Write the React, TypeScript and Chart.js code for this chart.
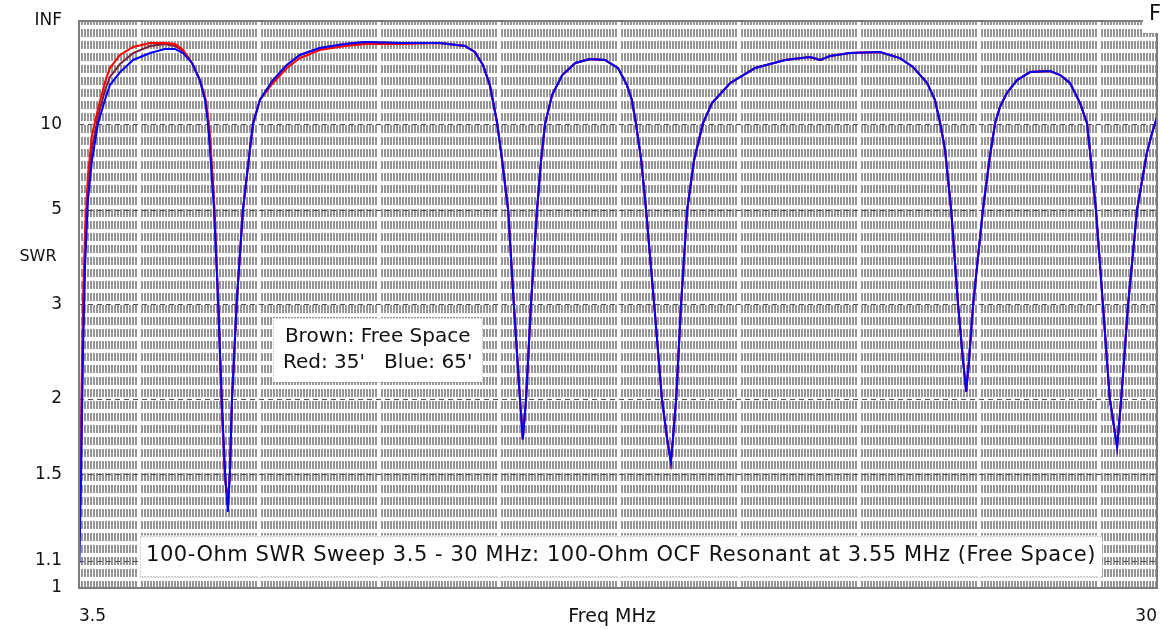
import React, { useEffect, useRef } from 'react';
import { Chart, registerables } from 'chart.js';

Chart.register(...registerables);

// ---------- data ----------
const FREQ_MHZ = [
  3.51, 3.55, 3.6, 3.65, 3.72, 3.82, 3.97, 4.14, 4.26, 4.51,
  4.83, 5.25, 5.61, 5.86, 6.06, 6.28, 6.47, 6.6, 6.67, 6.72,
  6.82, 6.92, 7.01, 7.09, 7.16, 7.21, 7.26, 7.38, 7.53, 7.7,
  7.78, 7.95, 8.27, 8.61, 8.93, 9.42, 10.04, 10.53, 11.39, 12.37,
  12.99, 13.23, 13.43, 13.6, 13.78, 13.9, 14.05, 14.19, 14.34, 14.41,
  14.49, 14.61, 14.76, 14.86, 14.96, 15.13, 15.38, 15.7, 16.06, 16.43,
  16.75, 16.97, 17.09, 17.19, 17.32, 17.44, 17.64, 17.83, 17.96, 18.05,
  18.1, 18.18, 18.3, 18.45, 18.62, 18.84, 19.06, 19.51, 20.12, 20.86,
  21.47, 21.72, 21.96, 22.45, 23.19, 23.68, 24.0, 24.35, 24.54, 24.67,
  24.79, 24.94, 25.11, 25.23, 25.31, 25.38, 25.48, 25.72, 25.89, 26.02,
  26.14, 26.31, 26.56, 26.88, 27.37, 27.62, 27.86, 28.11, 28.28, 28.35,
  28.5, 28.67, 28.84, 29.02, 29.12, 29.29, 29.51, 29.75, 29.88, 30.0,
];

const SWR_65FT = [
  1.09, 1.47, 2.45, 3.65, 5.34, 7.16, 10.1, 13.4, 16.7, 21.2,
  28.1, 34.4, 39.5, 39.5, 34.4, 26.0, 18.2, 13.4, 10.1, 7.79,
  5.0, 3.06, 1.99, 1.51, 1.31, 1.51, 1.99, 3.06, 5.0, 7.79,
  10.1, 13.4, 18.2, 24.8, 32.4, 41.0, 48.3, 53.0, 50.5, 50.5,
  44.4, 35.6, 24.8, 16.7, 10.1, 7.16, 5.0, 3.0, 2.0, 1.71,
  2.0, 3.0, 5.0, 7.16, 10.1, 14.3, 20.0, 26.0, 28.8, 28.1,
  23.1, 16.7, 13.4, 10.1, 7.16, 5.0, 3.0, 2.0, 1.71, 1.57,
  1.71, 2.0, 3.0, 5.0, 7.16, 10.1, 12.8, 17.3, 23.1, 28.1,
  30.5, 28.1, 31.4, 34.4, 35.6, 29.6, 23.7, 17.3, 13.4, 10.1,
  7.79, 5.0, 3.0, 2.35, 2.06, 2.35, 3.0, 5.0, 7.34, 10.1,
  12.2, 14.75, 18.2, 21.2, 21.7, 20.0, 17.3, 12.8, 10.1, 7.79,
  5.0, 3.0, 2.0, 1.66, 2.0, 3.0, 5.0, 7.59, 9.12, 10.8,
];

const SWR_35FT = [
  1.39, 1.84, 3.06, 4.43, 6.36, 8.95, 12.0, 17.6, 23.1, 32.4,
  42.6, 50.5, 50.5, 48.3, 38.1, 26.0, 18.2, 13.9, 11.1, 8.95,
  5.34, 3.06, 1.92, 1.47, 1.37, 1.51, 1.99, 3.06, 5.0, 7.79,
  10.1, 13.4, 17.3, 23.1, 29.6, 38.1, 44.4, 48.3, 48.3, 50.5,
  44.4, 35.6, 24.8, 16.7, 10.1, 7.16, 5.0, 3.0, 2.0, 1.71,
  2.0, 3.0, 5.0, 7.16, 10.1, 14.3, 20.0, 26.0, 28.8, 28.1,
  23.1, 16.7, 13.4, 10.1, 7.16, 5.0, 3.0, 2.0, 1.71, 1.57,
  1.71, 2.0, 3.0, 5.0, 7.16, 10.1, 12.8, 17.3, 23.1, 28.1,
  30.5, 28.1, 31.4, 34.4, 35.6, 29.6, 23.7, 17.3, 13.4, 10.1,
  7.79, 5.0, 3.0, 2.35, 2.06, 2.35, 3.0, 5.0, 7.34, 10.1,
  12.2, 14.75, 18.2, 21.2, 21.7, 20.0, 17.3, 12.8, 10.1, 7.79,
  5.0, 3.0, 2.0, 1.66, 2.0, 3.0, 5.0, 7.59, 9.12, 10.8,
];

const SWR_FREE_SPACE = [
  1.23, 1.64, 2.73, 4.06, 5.79, 7.93, 10.9, 15.4, 19.25, 25.4,
  34.4, 44.4, 48.3, 44.4, 36.8, 26.0, 18.2, 13.6, 10.6, 8.3,
  5.2, 3.06, 1.95, 1.49, 1.34, 1.51, 1.99, 3.06, 5.0, 7.79,
  10.1, 13.4, 18.2, 24.8, 32.4, 41.0, 48.3, 53.0, 50.5, 50.5,
  44.4, 35.6, 24.8, 16.7, 10.1, 7.16, 5.0, 3.0, 2.0, 1.71,
  2.0, 3.0, 5.0, 7.16, 10.1, 14.3, 20.0, 26.0, 28.8, 28.1,
  23.1, 16.7, 13.4, 10.1, 7.16, 5.0, 3.0, 2.0, 1.71, 1.57,
  1.71, 2.0, 3.0, 5.0, 7.16, 10.1, 12.8, 17.3, 23.1, 28.1,
  30.5, 28.1, 31.4, 34.4, 35.6, 29.6, 23.7, 17.3, 13.4, 10.1,
  7.79, 5.0, 3.0, 2.35, 2.06, 2.35, 3.0, 5.0, 7.34, 10.1,
  12.2, 14.75, 18.2, 21.2, 21.7, 20.0, 17.3, 12.8, 10.1, 7.79,
  5.0, 3.0, 2.0, 1.66, 2.0, 3.0, 5.0, 7.59, 9.12, 10.8,
];

const SWR_TICK_VALUES = [1, 1.1, 1.5, 2, 3, 5, 10, Infinity];
const SWR_TICK_LABELS = ['1', '1.1', '1.5', '2', '3', '5', '10', 'INF'];
const FREQ_TICK_VALUES = [3.5, 30];
const FREQ_TICK_LABELS = ['3.5', '30'];

const X_TITLE = 'Freq MHz';
const Y_TITLE = 'SWR';
const CORNER_TEXT = 'F';
const CHART_TITLE = '100-Ohm SWR Sweep 3.5 - 30 MHz: 100-Ohm OCF Resonant at 3.55 MHz (Free Space)';
const LEGEND_LINES = ['Brown: Free Space', "Red: 35'   Blue: 65'"];

const FREQ_MIN = 3.5;
const FREQ_MAX = 30;
const HATCH_STEP_MHZ = 0.07375;

// ---------- helpers ----------
const FONT = 'DejaVu Sans';
const toGamma = (swr: number) => (Number.isFinite(swr) ? (swr - 1) / (swr + 1) : 1);
const toPoints = (swr: number[]) => FREQ_MHZ.map((f, i) => ({ x: f, y: toGamma(swr[i]) }));

const noPad = (s: any) => {
  s.paddingLeft = 0;
  s.paddingRight = 0;
  s.paddingTop = 0;
  s.paddingBottom = 0;
};

function drawBox(ctx: CanvasRenderingContext2D, x: number, y: number, w: number, h: number) {
  ctx.fillStyle = '#ffffff';
  ctx.fillRect(x, y, w, h);
  ctx.strokeStyle = '#9a9a9a';
  ctx.lineWidth = 1;
  ctx.setLineDash([1, 2]);
  ctx.strokeRect(Math.round(x) + 0.5, Math.round(y) + 0.5, Math.round(w), Math.round(h));
  ctx.setLineDash([]);
}

const textPlugin = {
  id: 'eznecText',
  afterDraw(chart: any) {
    const { ctx, chartArea: a } = chart;
    const cx = (a.left + a.right) / 2;
    ctx.save();

    // plot frame
    ctx.strokeStyle = '#7d7d7d';
    ctx.lineWidth = 2;
    ctx.setLineDash([]);
    ctx.strokeRect(a.left, a.top, a.right - a.left, a.bottom - a.top);

    // top-right corner label
    ctx.fillStyle = '#ffffff';
    ctx.fillRect(a.right - 14, 0, chart.width - (a.right - 14), a.top + 12);
    ctx.strokeStyle = '#8a8a8a';
    ctx.lineWidth = 1;
    ctx.setLineDash([1, 1]);
    ctx.beginPath();
    ctx.moveTo(a.right - 14, a.top + 12.5);
    ctx.lineTo(a.right - 1, a.top + 12.5);
    ctx.stroke();
    ctx.setLineDash([]);
    ctx.fillStyle = '#111';
    ctx.font = `21px "${FONT}"`;
    ctx.textAlign = 'left';
    ctx.textBaseline = 'middle';
    ctx.fillText(CORNER_TEXT, a.right - 8, a.top - 6);

    // axis titles
    ctx.font = `16px "${FONT}"`;
    ctx.textAlign = 'center';
    ctx.fillText(Y_TITLE, a.left - 41, a.top + (a.bottom - a.top) * 0.416);
    ctx.font = `19px "${FONT}"`;
    ctx.fillText(X_TITLE, cx - 6, a.bottom + 29);

    // legend box
    ctx.font = `20px "${FONT}"`;
    const lw = Math.max(...LEGEND_LINES.map((t) => ctx.measureText(t).width)) + 20;
    const lx = a.left + 194;
    const ly = a.top + 297;
    drawBox(ctx, lx, ly, lw, 64);
    ctx.fillStyle = '#111';
    ctx.textAlign = 'center';
    LEGEND_LINES.forEach((t, i) => ctx.fillText(t, lx + lw / 2, ly + 19 + i * 26));

    // title box
    ctx.font = `21px "${FONT}"`;
    (ctx as any).letterSpacing = '0.55px';
    const tw = ctx.measureText(CHART_TITLE).width + 12;
    const th = 41;
    const tcy = a.bottom - 32;
    drawBox(ctx, cx + 3 - tw / 2, tcy - th / 2, tw, th);
    ctx.fillStyle = '#111';
    ctx.fillText(CHART_TITLE, cx + 3, tcy);
    (ctx as any).letterSpacing = '0px';

    ctx.restore();
  },
};

export default function App() {
  const ref = useRef<HTMLCanvasElement>(null);

  useEffect(() => {
    if (!ref.current) return;
    const chart = new Chart(ref.current, {
      type: 'line',
      data: {
        datasets: [
          { label: "Blue: 65'", data: toPoints(SWR_65FT), borderColor: '#0000ff', borderWidth: 2, xAxisID: 'x', yAxisID: 'y' },
          { label: "Red: 35'", data: toPoints(SWR_35FT), borderColor: '#ff0000', borderWidth: 2, xAxisID: 'x', yAxisID: 'y' },
          { label: 'Brown: Free Space', data: toPoints(SWR_FREE_SPACE), borderColor: '#7a1f3a', borderWidth: 2, xAxisID: 'x', yAxisID: 'y' },
        ],
      },
      options: {
        animation: false,
        responsive: true,
        maintainAspectRatio: false,
        layout: { padding: { left: 0, right: 5, top: 21, bottom: 0 } },
        elements: { point: { radius: 0 }, line: { tension: 0 } },
        plugins: { legend: { display: false }, tooltip: { enabled: false }, title: { display: false } },
        scales: {
          x: {
            type: 'linear',
            position: 'bottom',
            min: FREQ_MIN,
            max: FREQ_MAX,
            afterBuildTicks: (s: any) => {
              s.ticks = FREQ_TICK_VALUES.map((v) => ({ value: v }));
            },
            afterFit: (s: any) => {
              s.height = 41;
              noPad(s);
            },
            ticks: {
              autoSkip: false,
              maxRotation: 0,
              align: 'inner',
              padding: 18,
              color: '#111',
              font: { family: FONT, size: 17 },
              callback: (_v: any, i: number) => FREQ_TICK_LABELS[i],
            },
            grid: { display: false, drawTicks: false },
            border: { display: false },
          },
          xg: {
            type: 'linear',
            position: 'bottom',
            min: FREQ_MIN,
            max: FREQ_MAX,
            afterBuildTicks: (s: any) => {
              const t: { value: number }[] = [];
              for (let v = FREQ_MIN; v <= FREQ_MAX + 1e-9; v += HATCH_STEP_MHZ) t.push({ value: v });
              s.ticks = t;
            },
            afterFit: (s: any) => {
              s.height = 0;
              noPad(s);
            },
            ticks: { display: false },
            grid: {
              drawTicks: false,
              lineWidth: 2,
              color: (c: any) => (c.index % 40 === 20 ? 'rgba(0,0,0,0)' : '#969696'),
            },
            border: { display: false, dash: [8, 4], dashOffset: 4 },
          },
          y: {
            type: 'linear',
            min: 0,
            max: 1,
            afterBuildTicks: (s: any) => {
              s.ticks = SWR_TICK_VALUES.map((v) => ({ value: toGamma(v) }));
            },
            afterFit: (s: any) => {
              s.width = 79;
              noPad(s);
            },
            ticks: {
              autoSkip: false,
              padding: 17,
              color: '#111',
              font: { family: FONT, size: 17 },
              callback: (_v: any, i: number) => SWR_TICK_LABELS[i],
            },
            grid: { color: '#505050', lineWidth: 1, drawTicks: false },
            border: { display: false, dash: [5, 4] },
          },
        },
      },
      plugins: [textPlugin],
    } as any);
    return () => chart.destroy();
  }, []);

  return (
    <div style={{ position: 'absolute', left: 0, top: 0, width: 1162, height: 629, background: '#ffffff' }}>
      <canvas ref={ref} />
    </div>
  );
}
